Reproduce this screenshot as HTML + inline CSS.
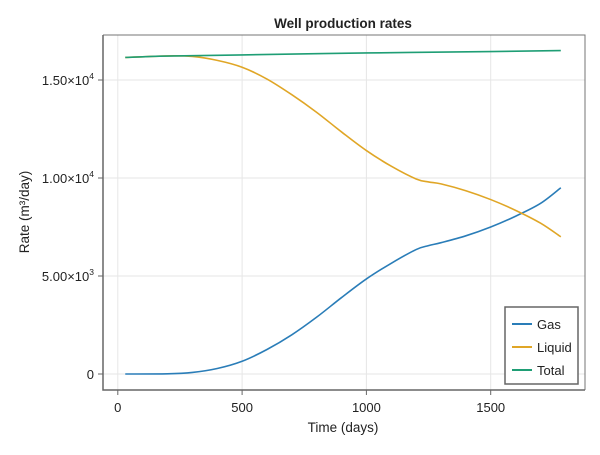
<!DOCTYPE html>
<html><head><style>body{margin:0;background:#fff}</style></head><body>
<svg id="s" width="600" height="450" xmlns="http://www.w3.org/2000/svg" font-family="Liberation Sans, sans-serif">
<rect width="600" height="450" fill="#fff"/>
<g stroke="#e6e6e6" stroke-width="1">
<line x1="117.8" y1="35" x2="117.8" y2="390"/><line x1="242.1" y1="35" x2="242.1" y2="390"/><line x1="366.4" y1="35" x2="366.4" y2="390"/><line x1="490.7" y1="35" x2="490.7" y2="390"/>
<line x1="103" y1="374" x2="585" y2="374"/><line x1="103" y1="276" x2="585" y2="276"/><line x1="103" y1="178" x2="585" y2="178"/><line x1="103" y1="80" x2="585" y2="80"/>
</g>
<g id="curves" fill="none" stroke-width="1.6"></g>
<path d="M103 35V390H585" fill="none" stroke="#666" stroke-width="1.5"/>
<path d="M103 35H585V390" fill="none" stroke="#666" stroke-width="1" opacity="0.9"/>
<g stroke="#666" stroke-width="1">
<line x1="117.8" y1="390" x2="117.8" y2="395"/><line x1="242.1" y1="390" x2="242.1" y2="395"/><line x1="366.4" y1="390" x2="366.4" y2="395"/><line x1="490.7" y1="390" x2="490.7" y2="395"/>
<line x1="98" y1="374" x2="103" y2="374"/><line x1="98" y1="276" x2="103" y2="276"/><line x1="98" y1="178" x2="103" y2="178"/><line x1="98" y1="80" x2="103" y2="80"/>
</g>
<g font-size="13" fill="#222" text-anchor="middle">
<text x="117.8" y="412">0</text><text x="242.1" y="412">500</text><text x="366.4" y="412">1000</text><text x="490.7" y="412">1500</text>
<text x="343" y="432" font-size="13.5">Time (days)</text>
<text x="343" y="28" font-size="13.5" font-weight="bold">Well production rates</text>
<text transform="translate(29,212) rotate(-90)" font-size="13.5">Rate (m³/day)</text>
</g>
<g font-size="13" fill="#222" text-anchor="end">
<text x="94" y="379">0</text>
<text x="94" y="281">5.00×10<tspan font-size="8.5" dy="-6">3</tspan></text>
<text x="94" y="183">1.00×10<tspan font-size="8.5" dy="-6">4</tspan></text>
<text x="94" y="85">1.50×10<tspan font-size="8.5" dy="-6">4</tspan></text>
</g>
<rect x="505" y="307" width="73" height="77" fill="#fff" stroke="#666" stroke-width="1.5"/>
<g stroke-width="2"><line x1="512" y1="324" x2="532" y2="324" stroke="#2a7db8"/><line x1="512" y1="347" x2="532" y2="347" stroke="#e0a626"/><line x1="512" y1="370" x2="532" y2="370" stroke="#1f9e75"/></g>
<g font-size="13" fill="#222"><text x="537" y="329">Gas</text><text x="537" y="352">Liquid</text><text x="537" y="375">Total</text></g>
</svg>
<script>
const X=d=>117.8+d*0.2486, Y=v=>374-v*0.0196;
const S={
"#2a7db8":[[30,0],[200,10],[300,80],[400,280],[500,650],[600,1250],[700,2000],[800,2900],[900,3900],[1000,4850],[1100,5650],[1200,6350],[1250,6550],[1300,6700],[1400,7050],[1500,7500],[1600,8050],[1700,8700],[1782,9500]],
"#e0a626":[[30,16150],[200,16230],[300,16200],[400,16000],[500,15650],[600,15050],[700,14250],[800,13350],[900,12350],[1000,11400],[1100,10600],[1200,9950],[1250,9800],[1300,9700],[1400,9350],[1500,8900],[1600,8350],[1700,7700],[1782,7000]],
"#1f9e75":[[30,16150],[200,16220],[500,16280],[1000,16380],[1500,16450],[1782,16500]]};
const g=document.getElementById('curves');
for(const c in S){const p=S[c].map(a=>[X(a[0]),Y(a[1])]);let d='M'+p[0];
for(let i=0;i<p.length-1;i++){const a=p[Math.max(i-1,0)],b=p[i],e=p[i+1],f=p[Math.min(i+2,p.length-1)];
d+=`C${b[0]+(e[0]-a[0])/6},${b[1]+(e[1]-a[1])/6} ${e[0]-(f[0]-b[0])/6},${e[1]-(f[1]-b[1])/6} ${e[0]},${e[1]}`;}
const el=document.createElementNS('http://www.w3.org/2000/svg','path');el.setAttribute('d',d);el.setAttribute('stroke',c);g.appendChild(el);}
</script>
</body></html>
